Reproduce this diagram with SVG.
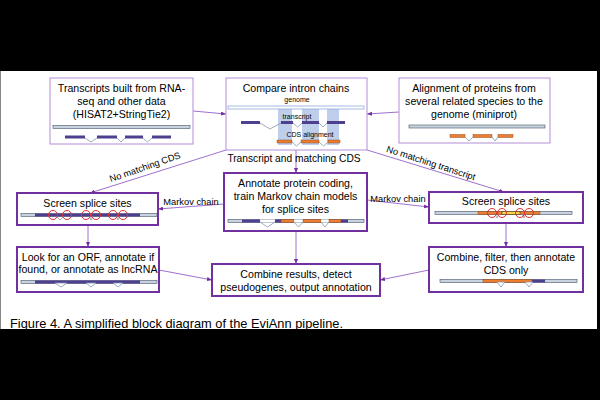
<svg xmlns="http://www.w3.org/2000/svg" width="600" height="400" viewBox="0 0 600 400">
<defs>
<marker id="ah" viewBox="0 0 10 8" refX="10" refY="4" markerWidth="5" markerHeight="4" markerUnits="userSpaceOnUse" orient="auto">
<path d="M0,0 L10,4 L0,8 z" fill="#7030a0"/>
</marker>
</defs>
<style>
text{font-family:"Liberation Sans",Arial,sans-serif;fill:#000}
.bt{font-size:10.6px;text-anchor:middle}
.lb{font-size:9.3px;text-anchor:middle}
.sm{font-size:7px;text-anchor:middle}
.lite{fill:#fff;stroke:#b38ed6;stroke-width:1}
.dark{fill:#fff;stroke:#7030a0;stroke-width:2}
.gen{fill:#c9d3df;stroke:#44546a;stroke-width:0.6}
.gen2{fill:#fff;stroke:#8faadc;stroke-width:0.8}
.tx{fill:#4f3f8f;stroke:none}
.cds{fill:#ed7d31;stroke:#7a3a10;stroke-width:0.4}
.intr{fill:none;stroke:#8497b0;stroke-width:0.8}
.hl{fill:#b4c7e7;opacity:0.85}
.circ{fill:none;stroke:#e03030;stroke-width:1}
.con{stroke:#a070d0;stroke-width:1;fill:none;marker-end:url(#ah)}
</style>
<rect x="0" y="0" width="600" height="400" fill="#000"/>
<rect x="0" y="71" width="597" height="258" fill="#fff"/>
<line x1="0.5" y1="71" x2="0.5" y2="329" stroke="#888" stroke-width="1"/>

<g id="connectors">
<line class="con" x1="193" y1="111" x2="226" y2="114"/>
<line class="con" x1="399" y1="112" x2="367" y2="114"/>
<line class="con" x1="296" y1="150" x2="296" y2="173"/>
<line class="con" x1="226" y1="150" x2="90" y2="193"/>
<line class="con" x1="367" y1="150" x2="504" y2="192"/>
<line class="con" x1="224" y1="204" x2="158" y2="209"/>
<line class="con" x1="367" y1="200" x2="429" y2="207"/>
<line class="con" x1="88" y1="225" x2="88" y2="247"/>
<line class="con" x1="296" y1="231" x2="296" y2="264"/>
<line class="con" x1="506" y1="223" x2="506" y2="247"/>
<line class="con" x1="159" y1="270" x2="212" y2="280"/>
<line class="con" x1="429" y1="270" x2="380" y2="280"/>
<text class="bt" x="294" y="162" style="font-size:10.2px">Transcript and matching CDS</text>
<text class="lb" transform="translate(146,170) rotate(-19)">No matching CDS</text>
<text class="lb" transform="translate(430,166) rotate(18)">No matching transcript</text>
<text class="lb" x="191" y="205">Markov chain</text>
<text class="lb" x="398" y="202">Markov chain</text>
</g>

<g id="n1">
<rect class="lite" x="50" y="78" width="143" height="66"/>
<text class="bt" x="121.5" y="92">Transcripts built from RNA-</text>
<text class="bt" x="121.5" y="105">seq and other data</text>
<text class="bt" x="121.5" y="118">(HISAT2+StringTie2)</text>
<rect class="gen" x="53" y="125.5" width="137" height="3"/>
<rect class="tx" x="65" y="135.5" width="20" height="3"/>
<rect class="tx" x="97" y="135.5" width="20" height="3"/>
<rect class="tx" x="125" y="135.5" width="18" height="3"/>
<rect class="tx" x="152" y="135.5" width="19" height="3"/>
<polyline class="intr" points="85,138 91,142 97,138"/>
<polyline class="intr" points="117,138 121,142 125,138"/>
<polyline class="intr" points="143,138 147.5,142 152,138"/>
</g>

<g id="n2">
<rect class="lite" x="226" y="78" width="141" height="72"/>
<text class="bt" x="296" y="92">Compare intron chains</text>
<text class="sm" x="297" y="102">genome</text>
<rect class="hl" x="278" y="107" width="14" height="38"/>
<rect class="hl" x="302" y="107" width="17" height="38"/>
<rect class="hl" x="327" y="107" width="12" height="38"/>
<rect class="gen2" x="228" y="106" width="136" height="3"/>
<text class="sm" x="297" y="119">transcript</text>
<rect class="tx" x="241" y="121" width="19" height="3"/>
<rect class="tx" x="281" y="121" width="12" height="3"/>
<rect class="tx" x="302" y="121" width="17" height="3"/>
<rect class="tx" x="327" y="121" width="18" height="3"/>
<polyline class="intr" points="260,123 270,129 281,123"/>
<polyline class="intr" points="293,123 297.5,127 302,123"/>
<polyline class="intr" points="319,123 323,127 327,123"/>
<text class="sm" x="310" y="137">CDS alignment</text>
<rect class="cds" x="277" y="140" width="15" height="3"/>
<rect class="cds" x="301" y="140" width="18" height="3"/>
<rect class="cds" x="328" y="140" width="12" height="3"/>
<polyline class="intr" points="292,142 296.5,146 301,142"/>
<polyline class="intr" points="319,142 323.5,146 328,142"/>
</g>

<g id="n3">
<rect class="lite" x="399" y="78" width="151" height="65"/>
<text class="bt" x="474" y="92">Alignment of proteins from</text>
<text class="bt" x="474" y="105">several related species to the</text>
<text class="bt" x="474" y="118">genome (miniprot)</text>
<rect class="gen" x="409" y="125" width="136" height="3"/>
<rect class="cds" x="450" y="134.5" width="15" height="3"/>
<rect class="cds" x="473" y="134.5" width="19" height="3"/>
<rect class="cds" x="498" y="134.5" width="15" height="3"/>
<polyline class="intr" points="465,137 469,141 473,137"/>
<polyline class="intr" points="492,137 495,141 498,137"/>
</g>

<g id="n4">
<rect class="dark" x="17" y="193" width="141" height="32"/>
<text class="bt" x="87.5" y="207">Screen splice sites</text>
<rect class="gen" x="21" y="213.5" width="136" height="3"/>
<rect class="tx" x="35" y="213.5" width="105" height="3"/>
<polyline class="intr" points="56,216 60,220 64,216"/>
<polyline class="intr" points="89,216 91,220 93,216"/>
<polyline class="intr" points="116,216 118,220 120,216"/>
<circle class="circ" cx="53" cy="215" r="4.5"/>
<circle class="circ" cx="67" cy="215" r="4.5"/>
<circle class="circ" cx="86" cy="215" r="4.5"/>
<circle class="circ" cx="96" cy="215" r="4.5"/>
<circle class="circ" cx="113" cy="215" r="4.5"/>
<circle class="circ" cx="123" cy="215" r="4.5"/>
</g>

<g id="n5">
<rect class="dark" x="224" y="173" width="143" height="58"/>
<text class="bt" x="295.5" y="187">Annotate protein coding,</text>
<text class="bt" x="295.5" y="200">train Markov chain models</text>
<text class="bt" x="295.5" y="213">for splice sites</text>
<rect class="gen" x="228" y="219.5" width="136" height="3"/>
<rect class="tx" x="242" y="219.5" width="18" height="3"/>
<rect fill="#fff" x="260" y="219.5" width="15" height="3"/>
<rect class="tx" x="275" y="219.5" width="6" height="3"/>
<rect class="cds" x="281" y="219.5" width="13" height="3"/>
<rect fill="#fff" x="294" y="219.5" width="9" height="3"/>
<rect class="cds" x="303" y="219.5" width="18" height="3"/>
<rect fill="#fff" x="321" y="219.5" width="8" height="3"/>
<rect class="cds" x="329" y="219.5" width="12" height="3"/>
<rect class="tx" x="341" y="219.5" width="7" height="3"/>
<polyline class="intr" points="260,222 267.5,227 275,222"/>
<polyline class="intr" points="294,222 298.5,227 303,222"/>
<polyline class="intr" points="321,222 325,227 329,222"/>
</g>

<g id="n6">
<rect class="dark" x="429" y="192" width="154" height="31"/>
<text class="bt" x="506" y="205">Screen splice sites</text>
<rect class="gen" x="435" y="211.5" width="137" height="3"/>
<rect class="cds" x="478" y="211.5" width="62" height="3"/>
<rect fill="#ffd54a" stroke="#222" stroke-width="0.5" x="502" y="211.5" width="18" height="3"/>
<polyline class="intr" points="495,214 497,218 499,214"/>
<polyline class="intr" points="522,214 524,218 526,214"/>
<circle class="circ" cx="492" cy="213" r="4.5"/>
<circle class="circ" cx="502" cy="213" r="4.5"/>
<circle class="circ" cx="520" cy="213" r="4.5"/>
<circle class="circ" cx="529" cy="213" r="4.5"/>
</g>

<g id="n7">
<rect class="dark" x="17" y="247" width="142" height="45"/>
<text class="bt" x="88" y="261">Look for an ORF, annotate if</text>
<text class="bt" x="88" y="273">found, or annotate as lncRNA</text>
<rect class="gen" x="21" y="280.5" width="136" height="3"/>
<rect class="tx" x="35" y="280.5" width="105" height="3"/>
<polygon points="55,283 61,287 67,283" fill="#fff" stroke="#8497b0" stroke-width="0.8"/>
<polygon points="86,283 91,287 96,283" fill="#fff" stroke="#8497b0" stroke-width="0.8"/>
<polygon points="113,283 118,287 123,283" fill="#fff" stroke="#8497b0" stroke-width="0.8"/>
</g>

<g id="n8">
<rect class="dark" x="212" y="264" width="168" height="32"/>
<text class="bt" x="296" y="278">Combine results, detect</text>
<text class="bt" x="296" y="291">pseudogenes, output annotation</text>
</g>

<g id="n9">
<rect class="dark" x="429" y="247" width="154" height="45"/>
<text class="bt" x="506" y="261">Combine, filter, then annotate</text>
<text class="bt" x="506" y="274">CDS only</text>
<rect class="gen" x="440" y="279.5" width="137" height="3"/>
<rect class="cds" x="483" y="279.5" width="49" height="3"/>
<rect class="tx" x="532" y="279.5" width="13" height="3"/>
<polygon points="497,282 501,287 505,282" fill="#fff" stroke="#8497b0" stroke-width="0.8"/>
<polygon points="525,282 529,287 533,282" fill="#fff" stroke="#8497b0" stroke-width="0.8"/>
</g>

<text x="10" y="327.5" style="font-size:13.5px" textLength="333" lengthAdjust="spacingAndGlyphs">Figure 4. A simplified block diagram of the EviAnn pipeline.</text>
</svg>
